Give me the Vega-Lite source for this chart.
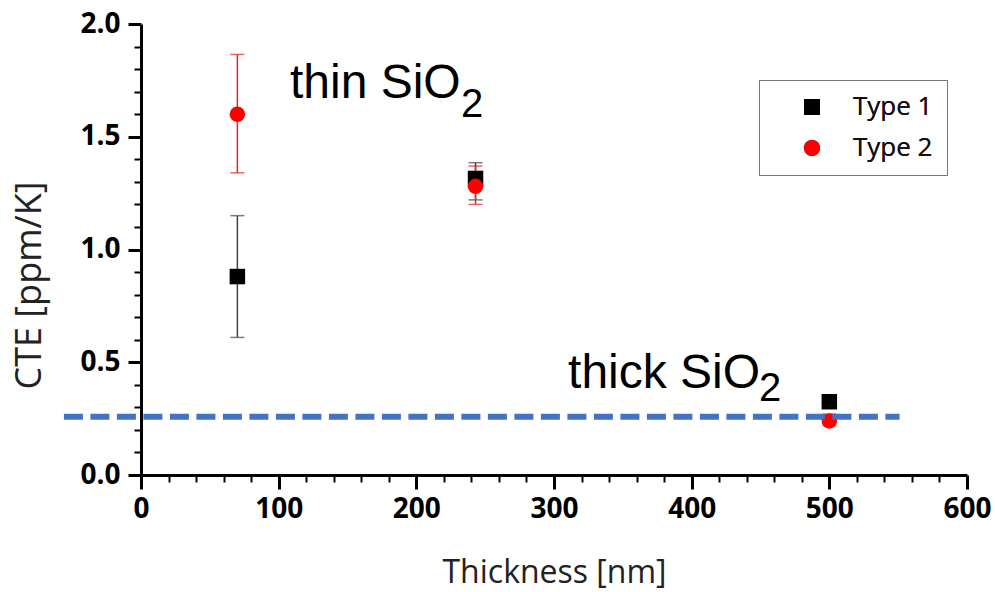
{
  "$schema": "https://vega.github.io/schema/vega-lite/v6.json",
  "width": 826,
  "height": 451,
  "autosize": {"type": "none"},
  "padding": {"left": 141, "top": 24, "right": 28, "bottom": 117},
  "background": "white",
  "config": {
    "view": {"stroke": null},
    "font": "Open Sans",
    "axis": {"ticks": true, "tickOpacity": 1, "tickColor": "#000000", "domainColor": "#000000", "grid": false, "zindex": 1}
  },
  "datasets": {
    "points": [
      {"type": "Type 1", "thickness": 70, "cte": 0.88, "lo": 0.61, "hi": 1.15},
      {"type": "Type 1", "thickness": 243, "cte": 1.315, "lo": 1.22, "hi": 1.385},
      {"type": "Type 1", "thickness": 500, "cte": 0.325, "lo": 0.315, "hi": 0.335},
      {"type": "Type 2", "thickness": 70, "cte": 1.6, "lo": 1.34, "hi": 1.865},
      {"type": "Type 2", "thickness": 243, "cte": 1.28, "lo": 1.2, "hi": 1.37},
      {"type": "Type 2", "thickness": 500, "cte": 0.24, "lo": 0.22, "hi": 0.27}
    ],
    "ref": [{"x0": -56, "x1": 551, "cte": 0.258}],
    "labels": [
      {"label": "thin SiO", "x": 108.2, "y": 1.673},
      {"label": "thick SiO", "x": 310.2, "y": 0.386}
    ],
    "subs": [
      {"label": "2", "x": 232.4, "y": 1.588},
      {"label": "2", "x": 449, "y": 0.328}
    ]
  },
  "layer": [
    {
      "data": {"name": "points"},
      "mark": {"type": "errorbar", "ticks": {"size": 14, "thickness": 1.5}, "rule": {"strokeWidth": 1.5}},
      "encoding": {
        "x": {
          "field": "thickness", "type": "quantitative",
          "scale": {"domain": [0, 600], "nice": false, "zero": false},
          "axis": {
            "orient": "bottom",
            "values": [20, 40, 60, 80, 120, 140, 160, 180, 220, 240, 260, 280, 320, 340, 360, 380, 420, 440, 460, 480, 520, 540, 560, 580],
            "labels": false, "domain": false, "tickSize": 7, "tickWidth": 2, "title": null
          }
        },
        "y": {
          "field": "lo", "type": "quantitative",
          "scale": {"domain": [0, 2], "nice": false, "zero": false},
          "axis": {
            "orient": "left",
            "values": [0.1, 0.2, 0.3, 0.4, 0.6, 0.7, 0.8, 0.9, 1.1, 1.2, 1.3, 1.4, 1.6, 1.7, 1.8, 1.9],
            "labels": false, "domain": false, "tickSize": 7, "tickWidth": 2, "title": null
          }
        },
        "y2": {"field": "hi"},
        "color": {
          "field": "type", "type": "nominal",
          "scale": {"domain": ["Type 1", "Type 2"], "range": ["#444444", "#f02020"]},
          "legend": null
        }
      }
    },
    {
      "data": {"name": "points"},
      "mark": {"type": "point", "filled": true, "size": 240, "opacity": 1},
      "encoding": {
        "x": {
          "field": "thickness", "type": "quantitative",
          "scale": {"domain": [0, 600], "nice": false, "zero": false},
          "axis": null
        },
        "y": {
          "field": "cte", "type": "quantitative",
          "scale": {"domain": [0, 2], "nice": false, "zero": false},
          "axis": null
        },
        "color": {
          "field": "type", "type": "nominal",
          "scale": {"domain": ["Type 1", "Type 2"], "range": ["#000000", "#ff0000"]},
          "legend": {
            "orient": "none", "legendX": 618, "legendY": 56, "title": null,
            "padding": 14, "strokeColor": "#777777",
            "labelFont": "Open Sans", "labelFontSize": 26, "labelColor": "#111111",
            "symbolSize": 256, "symbolOffset": 26, "labelOffset": 28, "rowPadding": 15,
            "symbolStrokeWidth": 0
          }
        },
        "shape": {
          "field": "type", "type": "nominal",
          "scale": {"domain": ["Type 1", "Type 2"], "range": ["square", "circle"]},
          "legend": {
            "orient": "none", "legendX": 618, "legendY": 56, "title": null,
            "padding": 14, "strokeColor": "#777777",
            "labelFont": "Open Sans", "labelFontSize": 26, "labelColor": "#111111",
            "symbolSize": 256, "symbolOffset": 26, "labelOffset": 28, "rowPadding": 15,
            "symbolStrokeWidth": 0
          }
        }
      }
    },
    {
      "data": {"name": "ref"},
      "mark": {"type": "rule", "strokeDash": [19, 7.5], "strokeWidth": 6, "color": "#4472C4", "clip": false},
      "encoding": {
        "x": {
          "field": "x0", "type": "quantitative",
          "scale": {"domain": [0, 600], "nice": false, "zero": false},
          "axis": {
            "orient": "bottom",
            "values": [0, 100, 200, 300, 400, 500, 600],
            "tickSize": 14, "tickWidth": 3,
            "domain": true, "domainWidth": 3,
            "labelFont": "Open Sans", "labelFontWeight": "bold", "labelFontSize": 28,
            "labelColor": "black", "labelPadding": 6, "labelFlush": false,
            "title": "Thickness [nm]", "titleFont": "Open Sans", "titleFontWeight": "normal",
            "titleFontSize": 32, "titleColor": "#222222", "titleY": 107, "titleBaseline": "alphabetic"
          }
        },
        "x2": {"field": "x1"},
        "y": {
          "field": "cte", "type": "quantitative",
          "scale": {"domain": [0, 2], "nice": false, "zero": false},
          "axis": {
            "orient": "left",
            "values": [0, 0.5, 1, 1.5, 2], "format": ".1f",
            "tickSize": 13, "tickWidth": 3,
            "domain": true, "domainWidth": 3,
            "labelFont": "Open Sans", "labelFontWeight": "bold", "labelFontSize": 28,
            "labelColor": "black", "labelPadding": 8, "labelFlush": false,
            "title": "CTE [ppm/K]", "titleFont": "Open Sans", "titleFontWeight": "normal",
            "titleFontSize": 36, "titleColor": "#222222", "titleX": -101, "titleY": 261,
            "titleAngle": 270, "titleAlign": "center", "titleBaseline": "alphabetic"
          }
        }
      }
    },
    {
      "data": {"name": "labels"},
      "mark": {"type": "text", "font": "Liberation Sans", "fontSize": 48, "align": "left", "baseline": "alphabetic", "color": "black"},
      "encoding": {
        "x": {"field": "x", "type": "quantitative", "scale": {"domain": [0, 600], "nice": false, "zero": false}, "axis": null},
        "y": {"field": "y", "type": "quantitative", "scale": {"domain": [0, 2], "nice": false, "zero": false}, "axis": null},
        "text": {"field": "label"}
      }
    },
    {
      "data": {"name": "subs"},
      "mark": {"type": "text", "font": "Liberation Sans", "fontSize": 40, "align": "left", "baseline": "alphabetic", "color": "black"},
      "encoding": {
        "x": {"field": "x", "type": "quantitative", "scale": {"domain": [0, 600], "nice": false, "zero": false}, "axis": null},
        "y": {"field": "y", "type": "quantitative", "scale": {"domain": [0, 2], "nice": false, "zero": false}, "axis": null},
        "text": {"field": "label"}
      }
    }
  ],
  "resolve": {
    "axis": {"x": "independent", "y": "independent"},
    "scale": {"color": "independent"}
  }
}
